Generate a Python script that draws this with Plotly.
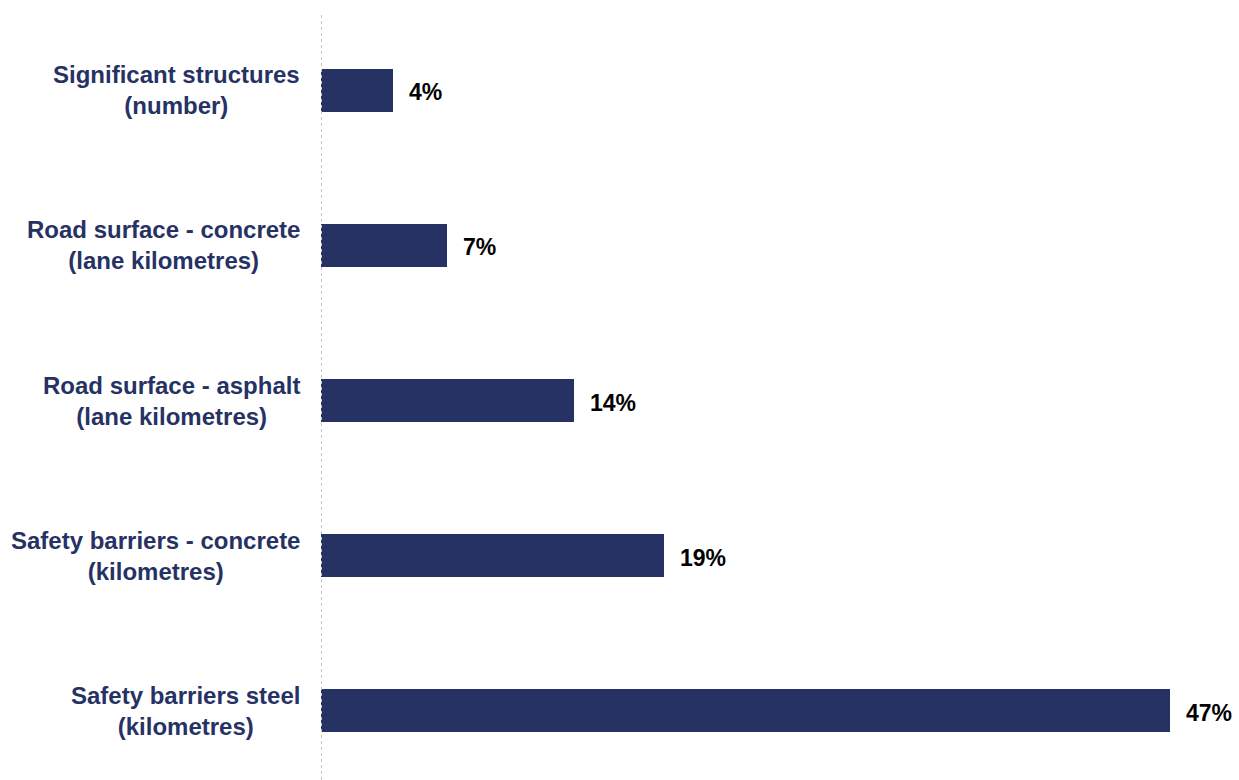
import plotly.graph_objects as go

# Categories listed bottom-to-top on the y axis
categories = [
    "Safety barriers steel<br>(kilometres)",
    "Safety barriers - concrete<br>(kilometres)",
    "Road surface - asphalt<br>(lane kilometres)",
    "Road surface - concrete<br>(lane kilometres)",
    "Significant structures<br>(number)",
]
values = [47, 19, 14, 7, 4]

NAVY = "#263264"
FONT = "Liberation Sans, Arial, sans-serif"

fig = go.Figure(
    go.Bar(
        x=values,
        y=list(range(len(categories))),
        orientation="h",
        width=0.28,
        marker=dict(color=NAVY, line=dict(width=0)),
        hoverinfo="skip",
    )
)

# Category labels (centred multi-line text to the left of the axis)
for i, cat in enumerate(categories):
    fig.add_annotation(
        x=0, xref="paper", y=i, yref="y",
        text=f"<b>{cat}</b>",
        showarrow=False, xanchor="right", yanchor="middle",
        align="center", xshift=-19,
        font=dict(family=FONT, size=24, color=NAVY),
    )

# Value labels at the end of each bar
for i, v in enumerate(values):
    fig.add_annotation(
        x=v, xref="x", y=i, yref="y",
        text=f"<b>{v}%</b>",
        showarrow=False, xanchor="left", yanchor="middle",
        xshift=14, yshift=-2,
        font=dict(family=FONT, size=23, color="#000000"),
    )

# Light dotted vertical axis line
fig.add_shape(
    type="line", xref="x", yref="paper",
    x0=0, x1=0, y0=0, y1=1,
    line=dict(color="#c4c4c4", width=2, dash="dot"),
)

fig.update_layout(
    width=1239, height=780,
    margin=dict(l=321, r=0, t=12, b=0),
    paper_bgcolor="white", plot_bgcolor="white",
    showlegend=False,
    bargap=0,
    xaxis=dict(range=[0, 50.85], visible=False, fixedrange=True),
    yaxis=dict(range=[-0.448, 4.506], showticklabels=False, showgrid=False,
               zeroline=False, showline=False, fixedrange=True),
)

fig.write_html("out.html", config={"displayModeBar": False})
